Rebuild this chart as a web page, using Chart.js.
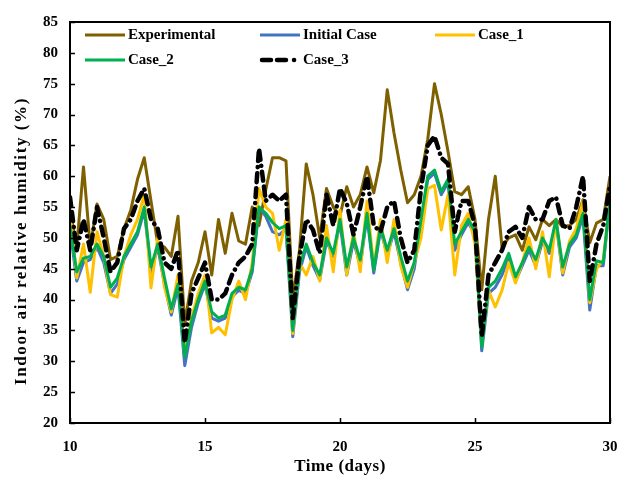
<!DOCTYPE html>
<html>
<head>
<meta charset="utf-8">
<script src="https://cdn.jsdelivr.net/npm/chart.js@4.4.1/dist/chart.umd.min.js"></script>
<style>
  html, body { margin: 0; padding: 0; background: #fff; }
  #wrap { width: 619px; height: 479px; }
</style>
</head>
<body>
<div id="wrap"><canvas id="rhChart" width="619" height="479"></canvas></div>
<script>
// time grid (days), one reading every 6 h
const days = [];
for (let d = 10; d <= 30.001; d += 0.25) days.push(+d.toFixed(2));

const experimental = [
  54.5, 48.5, 61.5, 48.5, 55.5, 53, 46.5, 47, 51.5, 54.5, 59.5, 63, 56, 49, 48.5, 47,
  53.5, 36, 43, 46, 51, 44, 53, 47.5, 54, 49.5, 49, 55, 52, 57.8, 63, 63,
  62.5, 40, 48, 62, 57, 50, 58, 55, 53.6, 58.3, 55, 57, 61.5, 57.3, 62.6, 74,
  67, 61, 55.7, 57, 60, 66, 75, 70, 64, 57.5, 57, 58.3, 53, 41.6, 53, 60,
  48.5, 50, 50.5, 48, 51.8, 49.7, 53, 52, 53, 51.8, 52, 53, 56.2, 49.2, 52.4, 53, 60
];
const initialCase = [
  51.5, 43, 46, 46.5, 48.5, 46, 41, 42.5, 46.5, 48.5, 50.5, 54.5, 44.5, 48.5, 42.5, 37.5,
  42, 29.3, 35.5, 39.5, 42.5, 37, 36.5, 37, 40.5, 41.5, 41, 44.5, 55, 53.5, 51, 50.5,
  51.5, 34, 44.5, 48.5, 45.5, 43.2, 49.5, 47, 52.5, 44, 49.5, 45.5, 53.5, 44.3, 51.3, 47.3,
  51, 46, 41.6, 45, 52.5, 59.5, 60.5, 57, 59, 48, 50.5, 52.5, 50.5, 31.7, 41, 42,
  44, 47, 43, 45.5, 48, 45.5, 49.5, 47.5, 52.5, 44, 48.5, 50, 53.5, 38.3, 45.5, 45.5, 56
];
const case1 = [
  54, 43.5, 49, 41.2, 51, 47, 40.8, 40.4, 47, 50.5, 53, 57, 41.9, 50, 42, 38,
  44, 31, 37, 41, 44, 34.6, 35.5, 34.3, 40, 43, 40, 46, 58, 55, 54, 48,
  53, 34.5, 46, 44, 47, 43, 52, 44.5, 54.5, 44, 51, 44.5, 56, 45.3, 53, 46,
  53, 45.5, 42, 46, 50, 58, 58.5, 51.3, 57, 44, 52, 54, 49, 33, 41.5, 38.8,
  41.5, 46, 42.7, 46, 50, 45, 51, 43.7, 53, 44.3, 49.5, 51.5, 56, 39.5, 45, 46.5, 56
];
const case2 = [
  52, 44.5, 46.7, 47, 49, 47, 42, 43.5, 47, 49, 51, 55, 45.3, 49, 43.5, 38.5,
  42.5, 30.7, 36.5, 40, 43, 38, 37, 37.5, 41, 42, 41.6, 45, 55, 54, 52.5, 51.5,
  52, 35, 45.3, 49, 46, 44, 50, 47.5, 53, 45.3, 50, 46.4, 54, 44.8, 51.8, 48,
  51.5, 47, 43, 46, 53, 60, 61, 57.5, 59.5, 49, 51, 53, 51, 32.3, 42, 43,
  45, 47.5, 43.7, 46, 48.5, 46.5, 50, 48, 53, 45.3, 49, 50.5, 54, 40, 46.3, 46, 56.5
];
const case3 = [
  56.6, 48, 53, 48, 55, 50, 44.5, 46, 51.5, 53, 56, 58, 53, 51.5, 46, 45,
  48, 33, 41, 43.5, 46, 40, 40, 41, 44, 46, 47, 49, 64.5, 56, 57, 56,
  57, 37, 47, 53, 51.3, 47.5, 57, 52, 58, 55.6, 50.5, 55, 60, 52, 51, 55,
  56, 50, 46, 48, 58, 65, 66.5, 63, 62, 51, 56, 56, 52, 34, 44, 46,
  48, 51, 51.8, 50, 55, 53, 53, 56, 56.6, 52, 51.5, 55, 60, 43, 49, 52, 58.5
];
const seriesNames = ['Experimental', 'Initial Case', 'Case_1', 'Case_2', 'Case_3'];
const xTicks = [10, 15, 20, 25, 30];
const xTitle = 'Time (days)';
const yTitle = 'Indoor air relative humidity (%)';

const FONT = "'Liberation Serif', 'Times New Roman', serif";
const toPts = arr => arr.map((v, i) => ({ x: days[i], y: v }));

// inward ticks, frame box and axis titles
const framePlugin = {
  id: 'frame',
  afterDraw(chart) {
    const { ctx, chartArea: a, scales } = chart;
    ctx.save();
    ctx.strokeStyle = '#000';
    ctx.lineWidth = 2;
    ctx.strokeRect(a.left, a.top, a.right - a.left, a.bottom - a.top);
    ctx.lineWidth = 1.5;
    ctx.beginPath();
    scales.y.ticks.forEach(t => {
      const y = Math.round(scales.y.getPixelForValue(t.value)) + 0.5;
      ctx.moveTo(a.left, y); ctx.lineTo(a.left + 5, y);
    });
    xTicks.forEach(v => {
      const x = Math.round(scales.x.getPixelForValue(v)) + 0.5;
      ctx.moveTo(x, a.bottom); ctx.lineTo(x, a.bottom - 5);
    });
    ctx.stroke();

    // titles
    ctx.fillStyle = '#000';
    ctx.textAlign = 'center';
    ctx.textBaseline = 'middle';
    ctx.font = 'bold 17px ' + FONT;
    ctx.letterSpacing = '0.5px';
    ctx.fillText(xTitle, (a.left + a.right) / 2, 467);
    ctx.translate(22, 241);
    ctx.rotate(-Math.PI / 2);
    ctx.letterSpacing = '1.6px';
    ctx.fillText(yTitle, 0, 0);
    ctx.restore();
  }
};

// legend drawn inside the plot, 3 columns
const legendPlugin = {
  id: 'insideLegend',
  afterDraw(chart) {
    const ctx = chart.ctx;
    const cols = [85, 260, 435];
    const rows = [35, 60];
    ctx.save();
    ctx.font = 'bold 15px ' + FONT;
    ctx.textBaseline = 'middle';
    chart.data.datasets.forEach((ds, i) => {
      const x = cols[i % 3], y = rows[Math.floor(i / 3)];
      ctx.strokeStyle = ds.borderColor;
      ctx.lineWidth = ds.borderWidth;
      ctx.beginPath();
      if (ds.borderDash) {
        // dash, dash, dot
        ctx.lineCap = 'round';
        ctx.moveTo(x + 2, y); ctx.lineTo(x + 11, y);
        ctx.moveTo(x + 17, y); ctx.lineTo(x + 26, y);
        ctx.moveTo(x + 34, y); ctx.lineTo(x + 34.1, y);
      } else {
        ctx.lineCap = 'butt';
        ctx.moveTo(x, y); ctx.lineTo(x + 40, y);
      }
      ctx.stroke();
      ctx.fillStyle = '#000';
      ctx.fillText(ds.label, x + 43, y);
    });
    ctx.restore();
  }
};

const colors = ['#7F6000', '#4472C4', '#FFC000', '#00B050', '#000000'];
const values = [experimental, initialCase, case1, case2, case3];
const drawOrder = [4, 3, 2, 1, 0];

const datasets = seriesNames.map((name, i) => ({
  label: name,
  data: toPts(values[i]),
  borderColor: colors[i],
  borderWidth: i === 4 ? 4.5 : 3,
  borderDash: i === 4 ? [9, 6, 9, 6, 0.1, 6] : undefined,
  borderCapStyle: i === 4 ? 'round' : 'butt',
  borderJoinStyle: 'round',
  pointRadius: 0,
  tension: 0,
  order: drawOrder[i]
}));

new Chart(document.getElementById('rhChart').getContext('2d'), {
  type: 'line',
  data: { datasets },
  options: {
    responsive: false,
    animation: false,
    events: [],
    layout: { padding: { top: 22, right: 9, left: 0, bottom: 0 } },
    plugins: { legend: { display: false }, tooltip: { enabled: false } },
    scales: {
      x: {
        type: 'linear', min: 10, max: 30,
        afterFit(s) { s.height = 56; s.paddingLeft = 0; s.paddingRight = 0; },
        afterBuildTicks(s) { s.ticks = xTicks.map(v => ({ value: v })); },
        grid: { display: false, drawTicks: false },
        border: { display: false },
        ticks: { color: '#000', padding: 15, maxRotation: 0, font: { family: FONT, size: 15, weight: 'bold' } }
      },
      y: {
        min: 20, max: 85,
        afterFit(s) { s.width = 70; s.paddingTop = 0; s.paddingBottom = 0; },
        grid: { display: false, drawTicks: false },
        border: { display: false },
        ticks: { stepSize: 5, color: '#000', padding: 12, font: { family: FONT, size: 15, weight: 'bold' } }
      }
    }
  },
  plugins: [framePlugin, legendPlugin]
});
</script>
</body>
</html>
